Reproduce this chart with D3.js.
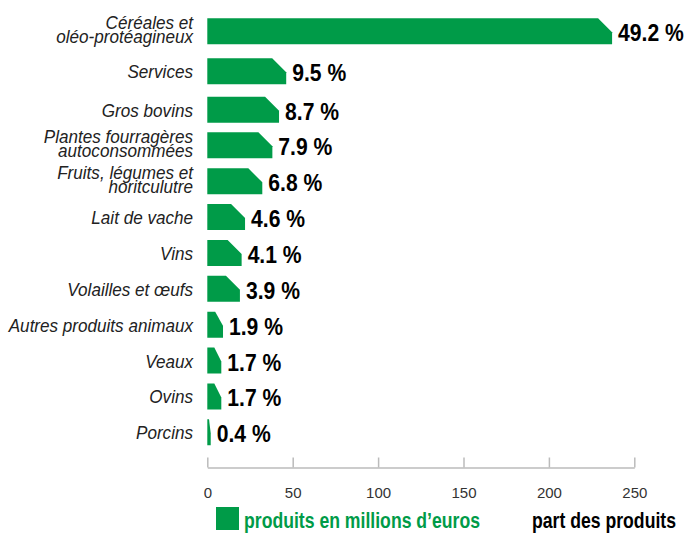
<!DOCTYPE html>
<html>
<head>
<meta charset="utf-8">
<script src="https://cdn.jsdelivr.net/npm/d3@7"></script>
<style>
  body { margin: 0; background: #fff; }
  .cat { font-family: "Liberation Sans", Arial, sans-serif; font-style: italic; font-size: 19px; fill: #222; }
  .val { font-family: "Liberation Sans", Arial, sans-serif; font-weight: bold; font-size: 24px; fill: #000; }
  .tick text { font-family: "Liberation Sans", Arial, sans-serif; font-size: 15px; fill: #333; }
  .leg { font-family: "Liberation Sans", Arial, sans-serif; font-weight: bold; font-size: 21.5px; }
</style>
</head>
<body>
<div id="container"></div>
<script>
var width = 692,
    height = 533;

var green = "#009b48";

// categories, top to bottom (label lines)
var categories = [
  ["Céréales et", "oléo-protéagineux"],
  ["Services"],
  ["Gros bovins"],
  ["Plantes fourragères", "autoconsommées"],
  ["Fruits, légumes et", "horitculutre"],
  ["Lait de vache"],
  ["Vins"],
  ["Volailles et œufs"],
  ["Autres produits animaux"],
  ["Veaux"],
  ["Ovins"],
  ["Porcins"]
];

// produits en millions d'euros
var produits = [237, 46.2, 42, 38.1, 32.2, 22.1, 20.1, 19.1, 9.2, 8.2, 8.2, 2];

// part des produits
var parts = ["49.2 %", "9.5 %", "8.7 %", "7.9 %", "6.8 %", "4.6 %", "4.1 %", "3.9 %", "1.9 %", "1.7 %", "1.7 %", "0.4 %"];

var xTicks = [0, 50, 100, 150, 200, 250];

var svg = d3.select('#container').append('svg')
    .attr("width", width)
    .attr("height", height);

var x = d3.scaleLinear()
    .domain([0, 250])
    .range([207.3, 634.3]);

// rows are not evenly spaced at the top
var y = d3.scaleLinear()
    .domain([0, 1, 2, 3, 11])
    .range([18.3, 58.3, 96.7, 132.3, 419.3]);

var barH = 26;
var narrow = 0.82;   // no narrow font installed, squeeze instead

function barPath(d, i) {
  var x0 = x(0), x1 = x(d), y0 = y(i), w = x1 - x0;
  var c = Math.min(14, w / 2), ch = 14;
  return "M" + x0 + "," + y0 +
    "H" + (x1 - c) +
    "L" + x1 + "," + (y0 + ch) +
    "V" + (y0 + barH) +
    "H" + x0 + "Z";
}

svg.selectAll('.bar')
    .data(produits)
    .enter()
    .append('path')
    .attr('class', 'bar')
    .attr('d', barPath)
    .style('fill', green);

svg.selectAll('.val')
    .data(parts)
    .enter()
    .append('text')
    .attr('class', 'val')
    .attr('transform', function(d, i) {
      return "translate(" + (x(produits[i]) + 6) + "," + (y(i) + barH / 2 + 10) + ") scale(0.88,1)";
    })
    .text(function(d) { return d; });

var cats = svg.selectAll('.cat')
    .data(categories)
    .enter()
    .append('text')
    .attr('class', 'cat')
    .attr('text-anchor', 'end')
    .attr('transform', function(d, i) {
      return "translate(193," + (y(i) + barH / 2 + 7) + ") scale(0.9,1)";
    });

cats.selectAll('tspan')
    .data(function(d) { return d; })
    .enter()
    .append('tspan')
    .attr('x', 0)
    .attr('dy', function(d, j, nodes) {
      if (j === 0) return nodes.length > 1 ? -9.5 : 0;
      return 14.5;
    })
    .text(function(d) { return d; });

var axis = svg.append('g')
    .attr('transform', 'translate(0,467.5)')
    .call(d3.axisTop(x).tickValues(xTicks).tickSize(10).tickSizeOuter(0));

axis.select('.domain').attr('stroke', '#bbb').attr('stroke-width', 1.5);
axis.selectAll('.tick line').attr('stroke', '#bbb').attr('stroke-width', 1.5);
axis.selectAll('.tick text')
    .attr('y', 30)
    .attr('dy', 0)
    .style('text-anchor', 'middle');

// legend
svg.append('rect')
    .attr('x', 216).attr('y', 507)
    .attr('width', 23).attr('height', 23)
    .style('fill', green);

svg.append('text')
    .attr('class', 'leg')
    .attr('transform', "translate(244,528) scale(" + narrow + ",1)")
    .style('fill', green)
    .text("produits en millions d’euros");

svg.append('text')
    .attr('class', 'leg')
    .attr('transform', "translate(532,528) scale(" + narrow + ",1)")
    .style('fill', '#000')
    .text("part des produits");
</script>
</body>
</html>
